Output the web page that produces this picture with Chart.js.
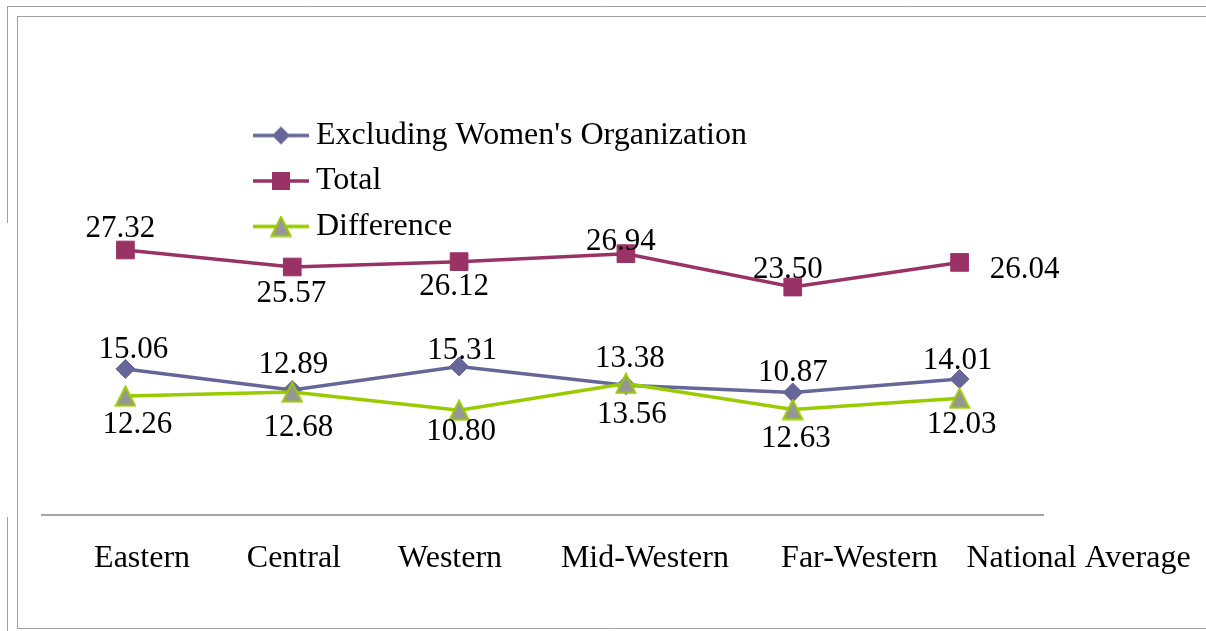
<!DOCTYPE html>
<html><head><meta charset="utf-8">
<script src="https://cdn.jsdelivr.net/npm/chart.js@4"></script>
<style>html,body{margin:0;padding:0;background:#fff;overflow:hidden}canvas{display:block}</style>
</head><body>
<canvas id="c" width="1206" height="631" style="width:1206px;height:631px"></canvas>
<script>
// ---- data ----
const categories = ['Eastern', 'Central', 'Western', 'Mid-Western', 'Far-Western', 'National Average'];
const seriesNames = ["Excluding Women's Organization", 'Total', 'Difference'];
const excluding = [15.06, 12.89, 15.31, 13.38, 12.63, 14.01];
const total = [27.32, 25.57, 26.12, 26.94, 23.50, 26.04];
const difference = [12.26, 12.68, 10.80, 13.56, 10.87, 12.03];
const excludingLabels = ['15.06', '12.89', '15.31', '13.38', '10.87', '14.01'];
const totalLabels = ['27.32', '25.57', '26.12', '26.94', '23.50', '26.04'];
const differenceLabels = ['12.26', '12.68', '10.80', '13.56', '12.63', '12.03'];

// ---- style ----
const FONT = "'Liberation Serif', 'Times New Roman', serif";
const C_EXCL = '#666699', C_TOTAL = '#993366', C_DIFF = '#99CC00', C_DIFF_FILL = '#969696';
Chart.defaults.font.family = FONT;

function triangleImg() {
  const c = document.createElement('canvas'); c.width = 22; c.height = 22;
  const g = c.getContext('2d');
  g.beginPath(); g.moveTo(11, 1.5); g.lineTo(20.5, 20.5); g.lineTo(1.5, 20.5); g.closePath();
  g.fillStyle = C_DIFF_FILL; g.fill(); g.lineWidth = 2; g.strokeStyle = C_DIFF; g.stroke();
  return c;
}
function legendImg(kind) {
  const c = document.createElement('canvas'); c.width = 56; c.height = 22;
  const g = c.getContext('2d');
  const col = kind === 'd' ? C_EXCL : kind === 's' ? C_TOTAL : C_DIFF;
  g.strokeStyle = col; g.lineWidth = 3.5; g.beginPath(); g.moveTo(0, 11); g.lineTo(56, 11); g.stroke();
  if (kind === 'd') { g.fillStyle = C_EXCL; g.beginPath(); g.moveTo(28, 2); g.lineTo(37, 11); g.lineTo(28, 20); g.lineTo(19, 11); g.closePath(); g.fill(); }
  else if (kind === 's') { g.fillStyle = C_TOTAL; g.fillRect(19, 2, 18, 18); }
  else { g.drawImage(triangleImg(), 17, 0); }
  return c;
}
const legendImages = [legendImg('d'), legendImg('s'), legendImg('t')];

// label offsets relative to each point (dx, dy)
const labelOffsets = [
  [[8, -19], [1, -25], [3, -16], [4, -26], [0, -20], [-2, -18]],
  [[-5, -21], [-1, 27], [-5, 25], [-5, -12], [-5, -17], [65, 7]],
  [[12, 29], [6, 36], [2, 22], [6, 31], [3, 29], [2, 27]]
];
const tickShift = [0.10, 0.01, -0.054, 0.114, 0.40, 0.713];

const pointLabels = {
  id: 'pointLabels',
  afterDatasetsDraw(chart) {
    const ctx = chart.ctx;
    ctx.save();
    ctx.font = '31px ' + FONT; ctx.fillStyle = '#000'; ctx.textAlign = 'center'; ctx.textBaseline = 'middle';
    chart.data.datasets.forEach((ds, di) => {
      chart.getDatasetMeta(di).data.forEach((pt, i) => {
        const o = labelOffsets[di][i];
        ctx.fillText(ds.valueText[i], pt.x + o[0], pt.y + o[1]);
      });
    });
    ctx.restore();
  }
};
const frame = {
  id: 'frame',
  beforeDraw(chart) {
    const g = chart.ctx;
    g.save(); g.strokeStyle = '#a0a0a0'; g.lineWidth = 1;
    g.beginPath();
    g.moveTo(7, 6.5); g.lineTo(1206, 6.5);
    g.moveTo(7.5, 6); g.lineTo(7.5, 223);
    g.moveTo(7.5, 517); g.lineTo(7.5, 631);
    g.moveTo(17, 16.5); g.lineTo(1206, 16.5);
    g.moveTo(17.5, 16); g.lineTo(17.5, 629);
    g.moveTo(17, 628.5); g.lineTo(1206, 628.5);
    g.stroke(); g.restore();
  }
};
const legendPlace = {
  id: 'legendPlace',
  afterLayout(chart) {
    const lg = chart.legend; if (!lg) return;
    lg.left = 248.5; lg.top = 106; lg.right = 1150; lg.bottom = 320;
  }
};

new Chart(document.getElementById('c'), {
  type: 'line',
  data: {
    labels: categories,
    datasets: [
      { label: seriesNames[0], data: excluding, valueText: excludingLabels, borderColor: C_EXCL, backgroundColor: C_EXCL,
        borderWidth: 3.5, pointStyle: 'rectRot', pointRadius: 9.5, pointBorderWidth: 1, pointBackgroundColor: C_EXCL, pointBorderColor: C_EXCL, order: 1, tension: 0 },
      { label: seriesNames[1], data: total, valueText: totalLabels, borderColor: C_TOTAL, backgroundColor: C_TOTAL,
        borderWidth: 3.5, pointStyle: 'rect', pointRadius: 12.5, pointBorderWidth: 1, pointBackgroundColor: C_TOTAL, pointBorderColor: C_TOTAL, order: 2, tension: 0 },
      { label: seriesNames[2], data: difference, valueText: differenceLabels, borderColor: C_DIFF, backgroundColor: C_DIFF_FILL,
        borderWidth: 3.5, pointStyle: triangleImg(), pointRadius: 10, order: 0, tension: 0 }
    ]
  },
  options: {
    responsive: false, animation: false,
    layout: { padding: { left: 42, right: 163, top: 127, bottom: 54 } },
    scales: {
      x: { type: 'category', offset: true, position: 'bottom',
        grid: { display: false, drawTicks: false }, ticks: { display: false },
        border: { display: true, color: '#a6a6a6', width: 2 },
        afterFit: s => { s.height = 0; s.paddingLeft = 0; s.paddingRight = 0; } },
      x2: { type: 'linear', position: 'bottom', min: -0.5, max: 5.5,
        grid: { display: false, drawTicks: false }, border: { display: false },
        afterBuildTicks: s => { s.ticks = categories.map((c, i) => ({ value: i + tickShift[i] })); },
        afterFit: s => { s.paddingLeft = 0; s.paddingRight = 0; s.height = 62; },
        ticks: { autoSkip: false, minRotation: 0, maxRotation: 0, padding: 24, color: '#000',
          font: { size: 32, family: FONT }, callback: (v, i) => categories[i] } },
      y: { display: false, min: 0, max: 40 }
    },
    plugins: {
      legend: { position: 'chartArea', align: 'start',
        labels: { usePointStyle: true, pointStyleWidth: 38, padding: 13.5, color: '#000', font: { size: 32, family: FONT },
          generateLabels: chart => seriesNames.map((n, i) => ({ text: n, pointStyle: legendImages[i], datasetIndex: i,
            fillStyle: 'rgba(0,0,0,0)', strokeStyle: 'rgba(0,0,0,0)', lineWidth: 0, hidden: false, fontColor: '#000' })) } },
      tooltip: { enabled: false }
    }
  },
  plugins: [frame, legendPlace, pointLabels]
});
</script>
</body></html>
